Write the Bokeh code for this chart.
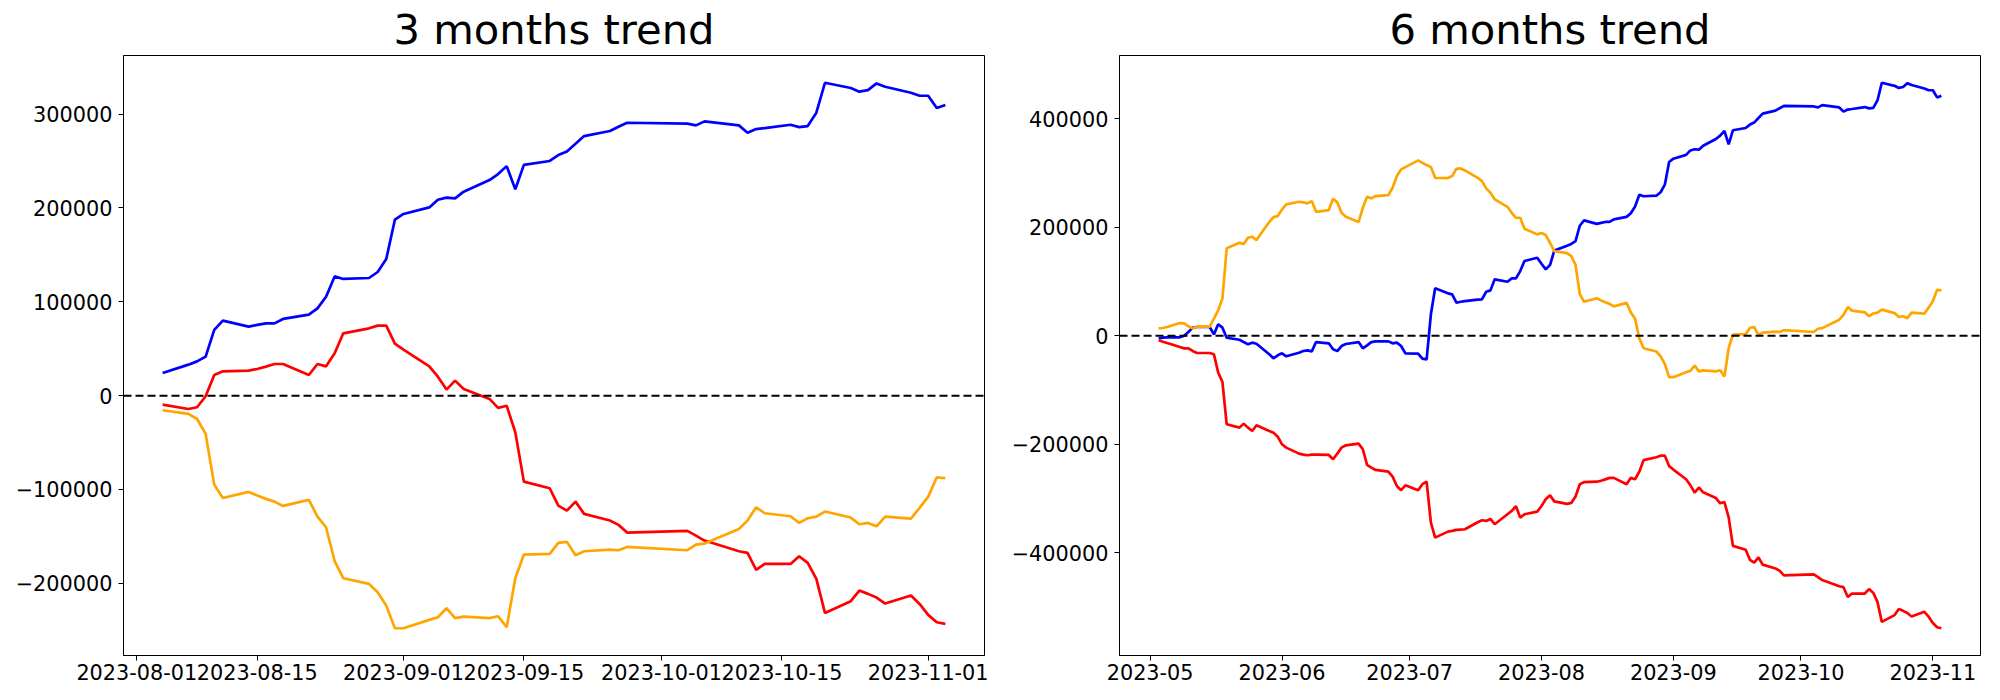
import pandas as pd
from bokeh.plotting import figure
from bokeh.models import Range1d, FixedTicker, CustomJSTickFormatter, Span
from bokeh.layouts import row
from bokeh.embed import file_html
from bokeh.resources import INLINE

# ---------------- 3 months data ----------------
dates_3m = [
    "2023-08-04", "2023-08-07", "2023-08-08", "2023-08-09", "2023-08-10", "2023-08-11",
    "2023-08-14", "2023-08-15", "2023-08-16", "2023-08-17", "2023-08-18",
    "2023-08-21", "2023-08-22", "2023-08-23", "2023-08-24", "2023-08-25",
    "2023-08-28", "2023-08-29", "2023-08-30", "2023-08-31", "2023-09-01",
    "2023-09-04", "2023-09-05", "2023-09-06", "2023-09-07", "2023-09-08",
    "2023-09-11", "2023-09-12", "2023-09-13", "2023-09-14", "2023-09-15",
    "2023-09-18", "2023-09-19", "2023-09-20", "2023-09-21", "2023-09-22",
    "2023-09-25", "2023-09-26", "2023-09-27",
    "2023-10-04", "2023-10-05", "2023-10-06",
    "2023-10-10", "2023-10-11", "2023-10-12", "2023-10-13",
    "2023-10-16", "2023-10-17", "2023-10-18", "2023-10-19", "2023-10-20",
    "2023-10-23", "2023-10-24", "2023-10-25", "2023-10-26", "2023-10-27",
    "2023-10-30", "2023-10-31", "2023-11-01", "2023-11-02", "2023-11-03",
]
blue_3m = [
    24200, 33000, 36500, 41500, 70000, 79900, 73500, 75300, 77000, 77000, 81700,
    86300, 93000, 105400, 127000, 124300, 125300, 131700, 145600, 187400,
    193500, 200500, 208700, 210900, 210100, 217300, 229700, 236000, 244500, 219800,
    245800, 250000, 256300, 260000, 268400, 276500, 281900, 286500, 290700,
    289700, 287900, 292200, 287900, 280100, 284000, 285000, 288600, 286100, 287200,
    301400, 333300, 327700, 323800, 325500, 332600, 329100, 322700, 319500,
    319500, 306400, 309600,
]
red_3m = [
    -9600, -14200, -12400, -700, 22000, 25900, 26600, 28400, 30900, 33700, 33700,
    22000, 33700, 31200, 45100, 66400, 71700, 74600, 74600, 55400,
    49000, 31200, 20200, 6400, 16000, 7100, -3500, -13100, -10800, -39000,
    -91600, -98700, -117200, -122500, -112900, -126000, -133100, -137700, -145900,
    -144100, -149100, -154400, -165800, -167600, -185700, -179300, -179300, -171100, -178200,
    -195200, -231500, -219000, -207700, -211200, -215100, -221500, -213000, -221900,
    -233600, -241400, -243200,
]
orange_3m = [
    -15600, -19500, -24900, -40800, -94800, -109000, -102600, -106500, -110000, -112900, -117500,
    -111100, -128900, -140200, -176400, -194500, -200600, -209400, -223700, -247800,
    -247800, -238900, -236100, -226500, -237100, -235400, -237100, -235000, -246700, -194500,
    -169300, -168600, -156900, -155800, -170000, -165800, -164000, -164700, -161200,
    -164700, -158700, -157600, -142000, -133100, -118900, -125300, -128500, -135600, -130600,
    -128900, -123500, -129900, -137000, -135600, -139200, -128900, -131000, -119600,
    -107900, -87000, -88000,
]

# ---------------- 6 months data ----------------
dates_6m_early = [
    "2023-05-03", "2023-05-04", "2023-05-05",
    "2023-05-08", "2023-05-09", "2023-05-10", "2023-05-11", "2023-05-12",
    "2023-05-15", "2023-05-16", "2023-05-17", "2023-05-18", "2023-05-19",
    "2023-05-22", "2023-05-23", "2023-05-24", "2023-05-25", "2023-05-26",
    "2023-05-29", "2023-05-30", "2023-05-31", "2023-06-01", "2023-06-02",
    "2023-06-05", "2023-06-06", "2023-06-07", "2023-06-08", "2023-06-09",
    "2023-06-12", "2023-06-13", "2023-06-14", "2023-06-15", "2023-06-16",
    "2023-06-19", "2023-06-20", "2023-06-21", "2023-06-22", "2023-06-23",
    "2023-06-26", "2023-06-27", "2023-06-28", "2023-06-29", "2023-06-30",
    "2023-07-03", "2023-07-04", "2023-07-05", "2023-07-06", "2023-07-07",
    "2023-07-10", "2023-07-11", "2023-07-12", "2023-07-13", "2023-07-14",
    "2023-07-17", "2023-07-18", "2023-07-19", "2023-07-20", "2023-07-21",
    "2023-07-24", "2023-07-25", "2023-07-26", "2023-07-27", "2023-07-28",
    "2023-07-31", "2023-08-01", "2023-08-02", "2023-08-03",
]
dates_6m = dates_6m_early + dates_3m

blue_6m = [
    -4800, -3700, -3000, -3000, 0, 6800, 14800, 16000, 16000, 2500, 21000, 14800, -3700,
    -7400, -11700, -15900, -12800, -14800, -34300, -41600, -36100,
    -32400, -37900, -31300, -28200, -26900, -28800, -11700, -14000, -25000, -28200, -19000,
    -15300, -11700, -23200, -17700, -11700, -10400, -10400, -14000, -12800, -19000, -32400,
    -33000, -42300, -43500, 39400, 87300, 78000, 76200, 60800, 62600, 63800, 66300, 67000,
    81000, 83500, 103800, 99400, 105600, 105600, 119000, 137500, 143600,
    132500, 122200, 130100,
    156700, 165500, 169000, 174000, 202500, 212400, 206000, 207800, 209500, 209500, 214200,
    218800, 225500, 237900, 259500, 256800, 257800, 264200, 278100, 319900,
    326000, 333000, 341200, 343400, 342600, 349800, 362200, 368500, 377000, 352300,
    378300, 382500, 388800, 392500, 400900, 409000, 414400, 419000, 423200,
    422200, 420400, 424700, 420400, 412600, 416500, 417500, 421100, 418600, 419700,
    433900, 465800, 460200, 456300, 458000, 465100, 461600, 455200, 452000,
    452000, 438900, 442100,
]
red_6m = [
    -8500, -11000, -13400, -20800, -23300, -23300, -28100, -31800, -31800, -34300, -68000,
    -85300, -163100, -169300, -161900, -169300, -175400, -165000, -175400, -178500, -185900,
    -200000, -206100, -217200, -219000, -220200, -219000, -219000, -219600, -227500, -217200,
    -206100, -201800, -198700, -209100, -238000, -243000, -247200, -250300, -259500, -276700,
    -284600, -275400,
    -284600, -273500, -268700, -344200, -371800, -360800, -359500, -357600, -357000, -356400,
    -343500, -339800, -341100, -337400, -347200, -328800, -322700, -314000, -335000, -328800,
    -324000,
    -313500, -301200, -293800,
    -305100, -309700, -307900, -296200, -273500, -269600, -268900, -267100, -264600, -261800,
    -261800, -273500, -261800, -264300, -250400, -229100, -223800, -220900, -220900, -240100,
    -246500, -264300, -275300, -289100, -279500, -288400, -299000, -308600, -306300, -334500,
    -387100, -394200, -412700, -418000, -408400, -421500, -428600, -433200, -441400,
    -439600, -444600, -449900, -461300, -463100, -481200, -474800, -474800, -466600, -473700,
    -490700, -527000, -514500, -503200, -506700, -510600, -517000, -508500, -517400,
    -529100, -536900, -538700,
]
orange_6m = [
    13500, 14200, 16000, 23300, 22800, 17300, 13500, 16600, 16600, 31300, 46800, 68800,
    160900, 171200, 168700, 180400, 182200, 176100, 209300, 218500, 220300,
    232500, 241900, 246700, 245500, 243700, 247900, 228200, 231400, 252200, 245500, 226400,
    219000, 209300, 235600, 255800, 252900, 257200, 259000, 272400, 294000, 306300, 310500,
    322800, 318400, 314200, 310500, 290800, 290300, 294000, 307400, 308100, 304400,
    290800, 284700, 271300, 263200, 251100, 237400, 226400, 217200, 217200, 197000, 186600,
    189000, 185300, 171200,
    155900, 152000, 146600, 130700, 76700, 62500, 68900, 65000, 61500, 58600, 54000,
    60400, 42600, 31300, -4900, -23000, -29100, -37900, -52200, -76300,
    -76300, -67400, -64600, -55000, -65600, -63900, -65600, -63500, -75200, -23000,
    2200, 2900, 14600, 15700, 1500, 5700, 7500, 6800, 10300,
    6800, 12800, 13900, 29500, 38400, 52600, 46200, 43000, 35900, 40900,
    42600, 48000, 41600, 34500, 35900, 32300, 42600, 40500, 51900,
    63600, 84500, 83500,
]

titles = ["3 months trend", "6 months trend"]
yticks_3m = [-200000, -100000, 0, 100000, 200000, 300000]
yticks_6m = [-400000, -200000, 0, 200000, 400000]
xticks_3m = ["2023-08-01", "2023-08-15", "2023-09-01", "2023-09-15",
             "2023-10-01", "2023-10-15", "2023-11-01"]
xticks_6m = ["2023-05-01", "2023-06-01", "2023-07-01", "2023-08-01",
             "2023-09-01", "2023-10-01", "2023-11-01"]

FONT = "DejaVu Sans"

Y_FMT = """
const v = Math.round(Math.abs(tick)).toString();
return tick < 0 ? '\\u2212' + v : v;
"""
X_FMT_DAY = """
const d = new Date(tick);
const m = String(d.getUTCMonth() + 1).padStart(2, '0');
const dd = String(d.getUTCDate()).padStart(2, '0');
return d.getUTCFullYear() + '-' + m + '-' + dd;
"""
X_FMT_MONTH = """
const d = new Date(tick);
const m = String(d.getUTCMonth() + 1).padStart(2, '0');
return d.getUTCFullYear() + '-' + m;
"""


def ms(s):
    return pd.Timestamp(s).value / 1e6


def make_fig(title, dates, blue, red, orange, yticks, xticks, xfmt,
             border_left, border_right):
    xs = [ms(d) for d in dates]
    xspan = max(xs) - min(xs)
    allv = blue + red + orange
    ymin, ymax = min(allv), max(allv)
    ypad = (ymax - ymin) * 0.05
    p = figure(
        x_axis_type="datetime",
        frame_width=861, frame_height=600,
        x_range=Range1d(min(xs) - 0.05 * xspan, max(xs) + 0.05 * xspan),
        y_range=Range1d(ymin - ypad, ymax + ypad),
        output_backend="svg", toolbar_location=None,
        min_border_left=border_left, min_border_right=border_right,
        min_border_top=10, min_border_bottom=30,
        title=title,
    )
    p.title.text_font = FONT
    p.title.text_font_size = "41.7px"
    p.title.text_font_style = "normal"
    p.title.align = "center"
    p.title.standoff = 4
    p.title.text_color = "black"

    p.xgrid.visible = False
    p.ygrid.visible = False
    p.outline_line_color = "black"
    p.outline_line_width = 1
    p.outline_line_alpha = 1.0
    p.background_fill_color = "white"
    p.border_fill_color = "white"

    for ax in (p.xaxis[0], p.yaxis[0]):
        ax.axis_line_color = "black"
        ax.axis_line_width = 1
        ax.major_tick_line_color = "black"
        ax.major_tick_line_width = 1
        ax.major_tick_out = 5
        ax.major_tick_in = 0
        ax.minor_tick_out = 0
        ax.minor_tick_in = 0
        ax.major_label_text_font = FONT
        ax.major_label_text_font_size = "20.8px"
        ax.major_label_text_color = "black"
    p.xaxis[0].major_label_standoff = 3
    p.yaxis[0].major_label_standoff = 6

    p.xaxis[0].ticker = FixedTicker(ticks=[ms(t) for t in xticks])
    p.xaxis[0].formatter = CustomJSTickFormatter(code=xfmt)
    p.yaxis[0].ticker = FixedTicker(ticks=yticks)
    p.yaxis[0].formatter = CustomJSTickFormatter(code=Y_FMT)

    x_dt = pd.to_datetime(dates)
    p.line(x_dt, blue, line_color="blue", line_width=2.7)
    p.line(x_dt, red, line_color="red", line_width=2.7)
    p.line(x_dt, orange, line_color="orange", line_width=2.7)

    p.add_layout(Span(location=0, dimension="width", line_color="black",
                      line_width=2, line_dash="8 4"))
    return p


p1 = make_fig(titles[0], dates_3m, blue_3m, red_3m, orange_3m,
              yticks_3m, xticks_3m, X_FMT_DAY, 123, 20)
p2 = make_fig(titles[1], dates_6m, blue_6m, red_6m, orange_6m,
              yticks_6m, xticks_6m, X_FMT_MONTH, 115, 10)

layout = row(p1, p2)
with open("out.html", "w", encoding="utf-8") as f:
    f.write(file_html(layout, INLINE))
